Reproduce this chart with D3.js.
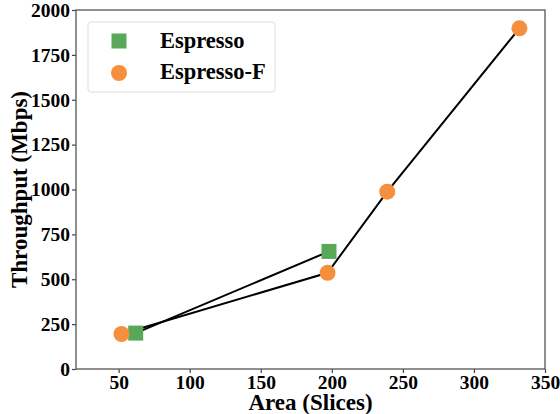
<!DOCTYPE html>
<html><head><meta charset="utf-8">
<script src="https://cdn.jsdelivr.net/npm/d3@7"></script>
<style>body{margin:0;background:#fff}svg{display:block}</style>
</head><body>
<script>
const xTicks = [50,100,150,200,250,300,350];
const yTicks = [0,250,500,750,1000,1250,1500,1750,2000];
const espressoArea = [62, 198];
const espressoThroughput = [200, 655];
const espressoFArea = [52, 197, 239, 332];
const espressoFThroughput = [195, 536, 988, 1898];
const seriesNames = ["Espresso", "Espresso-F"];
const seriesColors = ["#59a85a", "#f68f3d"];

const W = 560, H = 414;
const m = {left:76, right:15, top:10, bottom:45};
const svg = d3.select("body").append("svg").attr("width", W).attr("height", H);
const x = d3.scaleLinear().domain([20,350]).range([m.left, W - m.right]);
const y = d3.scaleLinear().domain([0,2000]).range([H - m.bottom, m.top]);
const font = "'Liberation Serif','Times New Roman',serif";

const gx = svg.append("g").attr("transform", `translate(0,${H - m.bottom})`)
  .call(d3.axisBottom(x).tickValues(xTicks).tickFormat(d3.format("d")).tickSize(4).tickPadding(2));
const gy = svg.append("g").attr("transform", `translate(${m.left},0)`)
  .call(d3.axisLeft(y).tickValues(yTicks).tickFormat(d3.format("d")).tickSize(4).tickPadding(2));
[gx, gy].forEach(g => {
  g.selectAll("text").attr("font-family", font).attr("font-weight", "bold").attr("font-size", 19.5).attr("fill", "#000");
  g.selectAll("line").attr("stroke", "#444").attr("stroke-width", 1.2);
  g.select(".domain").remove();
});
svg.append("rect").attr("x", m.left).attr("y", m.top)
  .attr("width", W - m.left - m.right).attr("height", H - m.top - m.bottom)
  .attr("fill", "none").attr("stroke", "#555").attr("stroke-width", 1.3);

const line = d3.line().x(d => x(d[0])).y(d => y(d[1]));
const eData = espressoArea.map((a, i) => [a, espressoThroughput[i]]);
const fData = espressoFArea.map((a, i) => [a, espressoFThroughput[i]]);
[eData, fData].forEach(d => svg.append("path").attr("d", line(d)).attr("fill", "none").attr("stroke", "#000").attr("stroke-width", 2));

const sq = 15;
svg.selectAll(".sq").data(eData).enter().append("rect")
  .attr("x", d => x(d[0]) - sq/2).attr("y", d => y(d[1]) - sq/2)
  .attr("width", sq).attr("height", sq).attr("fill", seriesColors[0]);
svg.selectAll(".ci").data(fData).enter().append("circle")
  .attr("cx", d => x(d[0])).attr("cy", d => y(d[1])).attr("r", 8).attr("fill", seriesColors[1]);

// legend
const lg = svg.append("g");
lg.append("rect").attr("x", 88).attr("y", 22).attr("width", 187).attr("height", 70).attr("rx", 3)
  .attr("fill", "#fff").attr("stroke", "#ddd").attr("stroke-width", 1);
lg.append("rect").attr("x", 119 - 7.5).attr("y", 41 - 7.5).attr("width", 15).attr("height", 15).attr("fill", seriesColors[0]);
lg.append("circle").attr("cx", 119).attr("cy", 73).attr("r", 8).attr("fill", seriesColors[1]);
seriesNames.forEach((n, i) => lg.append("text").attr("x", 160).attr("y", 48 + i * 31).text(n)
  .attr("font-family", font).attr("font-weight", "bold").attr("font-size", 22.5).attr("fill", "#000"));

svg.append("text").attr("x", (m.left + W - m.right) / 2).attr("y", 410).attr("text-anchor", "middle")
  .attr("font-family", font).attr("font-weight", "bold").attr("font-size", 23).text("Area (Slices)");
svg.append("text").attr("transform", `translate(27,${(m.top + H - m.bottom)/2}) rotate(-90)`).attr("text-anchor", "middle")
  .attr("font-family", font).attr("font-weight", "bold").attr("font-size", 23).text("Throughput (Mbps)");
</script>
</body></html>
